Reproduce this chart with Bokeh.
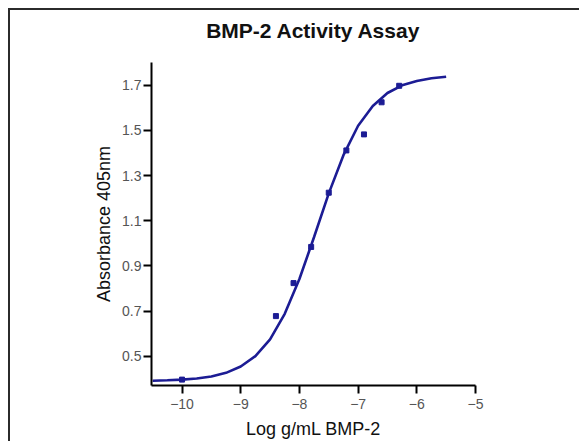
from bokeh.plotting import figure
from bokeh.models import FixedTicker, Range1d, Title
from bokeh.embed import file_html
from bokeh.resources import INLINE

# measured points
log_conc = [-10.0, -8.4, -8.1, -7.8, -7.5, -7.2, -6.9, -6.6, -6.3]
absorbance = [0.397, 0.678, 0.824, 0.984, 1.224, 1.411, 1.482, 1.624, 1.697]

# fitted curve
curve_x = [-10.5, -10.25, -10.0, -9.75, -9.5, -9.25, -9.0, -8.75, -8.5, -8.25,
           -8.0, -7.75, -7.5, -7.25, -7.0, -6.75, -6.5, -6.25, -6.0, -5.75, -5.5]
curve_y = [0.392, 0.394, 0.397, 0.402, 0.411, 0.427, 0.455, 0.501, 0.575, 0.688,
           0.842, 1.028, 1.221, 1.390, 1.520, 1.608, 1.665, 1.699, 1.718, 1.730, 1.737]

x_ticks = [-10, -9, -8, -7, -6, -5]
y_ticks = [0.5, 0.7, 0.9, 1.1, 1.3, 1.5, 1.7]

title_text = "BMP-2 Activity Assay"
x_label = "Log g/mL BMP-2"
y_label = "Absorbance 405nm"

FONT = "Liberation Sans"
BLUE = "#1c1c94"

p = figure(width=569, height=433, output_backend="svg", toolbar_location=None,
           x_range=Range1d(-10.52, -5.0), y_range=Range1d(0.371, 1.80),
           frame_width=324, frame_height=323,
           min_border_left=141, min_border_top=52, min_border_right=104, min_border_bottom=40)
p.styles = {"margin-left": "8px", "margin-top": "8px",
            "border-top": "2px solid #2b2b2b", "border-left": "2px solid #2b2b2b"}

# blank spacer between frame and title, then the title itself
p.add_layout(Title(text=" ", text_font_size="14px", standoff=3), "above")
p.add_layout(Title(text=title_text, align="center", text_font=FONT,
                   text_font_size="21px", text_font_style="bold",
                   text_color="#111111", standoff=0), "above")

p.outline_line_color = None
p.grid.visible = False
p.background_fill_color = "white"
p.border_fill_color = "white"

for ax in (p.xaxis[0], p.yaxis[0]):
    ax.axis_line_width = 2
    ax.axis_line_color = "black"
    ax.major_tick_line_width = 2
    ax.major_tick_line_color = "black"
    ax.major_tick_out = 8
    ax.major_tick_in = 0
    ax.minor_tick_line_color = None
    ax.major_label_text_font = FONT
    ax.major_label_text_font_size = "14px"
    ax.major_label_text_color = "#555555"
    ax.axis_label_text_font = FONT
    ax.axis_label_text_font_size = "18px"
    ax.axis_label_text_font_style = "normal"
    ax.axis_label_text_color = "#111111"

p.xaxis.ticker = FixedTicker(ticks=x_ticks)
p.yaxis.ticker = FixedTicker(ticks=y_ticks)
p.xaxis.axis_label = x_label
p.yaxis.axis_label = y_label
p.xaxis.major_label_standoff = 5
p.yaxis.major_label_standoff = 2
p.xaxis.axis_label_standoff = 7
p.yaxis.axis_label_standoff = 5

p.line(curve_x, curve_y, line_color=BLUE, line_width=2.6)
p.scatter(log_conc, absorbance, marker="square", size=5, fill_color=BLUE, line_color=BLUE)

open("out.html", "w").write(file_html(p, INLINE))
